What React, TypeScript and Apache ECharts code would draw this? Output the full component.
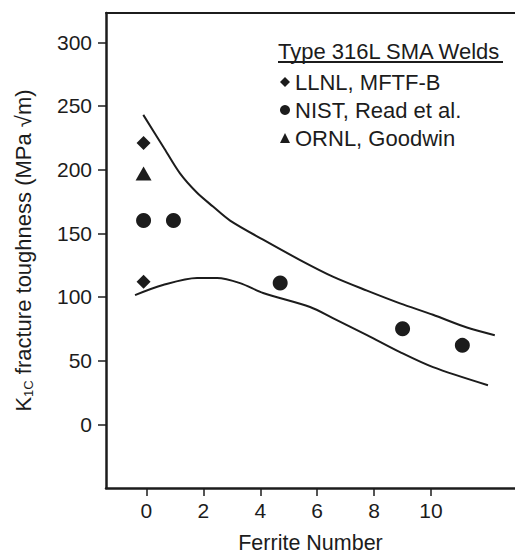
import React, { useEffect, useRef } from "react";
import * as echarts from "echarts";

// Axis ticks
const xTicks = [0, 2, 4, 6, 8, 10];
const yTicks = [0, 50, 100, 150, 200, 250, 300];

// Legend texts
const legendTitle = "Type 316L SMA Welds";
const seriesNames = ["LLNL, MFTF-B", "NIST, Read et al.", "ORNL, Goodwin"];

// Measured K1C values: [ferrite number, MPa·√m]
const llnl = [
  [-0.1, 221],
  [-0.1, 112],
];
const nist = [
  [-0.1, 160],
  [0.95, 160],
  [4.7, 111],
  [9.0, 75],
  [11.1, 62],
];
const ornl = [[-0.1, 197]];

// Scatter band boundaries
const upperBound = [
  [-0.11, 243],
  [0.59, 218],
  [1.18, 197],
  [1.77, 182],
  [2.34, 171],
  [2.94, 160],
  [4.1, 145],
  [5.4, 129],
  [6.55, 116],
  [7.75, 105],
  [8.91, 95],
  [10.07, 86],
  [11.26, 76],
  [12.24, 70],
];
const lowerBound = [
  [-0.4, 101.5],
  [0.58, 109.4],
  [1.78, 114.9],
  [2.48, 114.9],
  [3.29, 110.9],
  [4.1, 103.1],
  [5.75, 92.1],
  [6.55, 83.4],
  [7.75, 70.1],
  [8.91, 56.7],
  [10.07, 44.9],
  [12.0, 30.7],
];

const FONT = "Liberation Sans";
const INK = "#1c1c1c";

export default function App() {
  const ref = useRef<HTMLDivElement>(null);

  useEffect(() => {
    if (!ref.current) return;
    const chart = echarts.init(ref.current, null, { renderer: "svg" });

    const bandLine = (data: number[][]) => ({
      type: "line",
      data,
      smooth: 0.3,
      showSymbol: false,
      silent: true,
      lineStyle: { color: INK, width: 2 },
      z: 2,
    });

    chart.setOption({
      animation: false,
      backgroundColor: "#ffffff",
      textStyle: { fontFamily: FONT },
      grid: {
        left: 106,
        right: 0,
        top: 13,
        bottom: 67,
        containLabel: false,
        outerBoundsMode: "none",
      },
      xAxis: [
        {
          type: "value",
          position: "bottom",
          min: -1.42,
          max: 12.95,
          splitLine: { show: false },
          axisLine: { show: true, onZero: false, lineStyle: { color: INK, width: 2.5 } },
          axisTick: {
            show: true,
            length: 8,
            customValues: xTicks,
            lineStyle: { color: INK, width: 1.5 },
          },
          axisLabel: {
            customValues: xTicks,
            fontSize: 21,
            fontFamily: FONT,
            color: INK,
            margin: 12,
          },
          name: "Ferrite Number",
          nameLocation: "middle",
          nameGap: 44,
          nameTextStyle: { fontSize: 21.5, fontFamily: FONT, color: INK },
        },
        {
          type: "value",
          position: "top",
          min: -1.42,
          max: 12.95,
          splitLine: { show: false },
          axisLine: { show: true, onZero: false, lineStyle: { color: INK, width: 2 } },
          axisTick: { show: false },
          axisLabel: { show: false },
        },
      ],
      yAxis: {
        type: "value",
        min: -50,
        max: 323,
        splitLine: { show: false },
        axisLine: { show: true, onZero: false, lineStyle: { color: INK, width: 2.5 } },
        axisTick: {
          show: true,
          length: 8,
          customValues: yTicks,
          lineStyle: { color: INK, width: 1.5 },
        },
        axisLabel: {
          customValues: yTicks,
          fontSize: 21,
          fontFamily: FONT,
          color: INK,
          margin: 14,
        },
        name: "{k|K}{sub|1C}{t| fracture toughness (MPa √m)}",
        nameLocation: "middle",
        nameGap: 71,
        nameTextStyle: {
          color: INK,
          fontFamily: FONT,
          rich: {
            k: { fontSize: 22, lineHeight: 24, fontFamily: FONT, color: INK },
            sub: {
              fontSize: 13,
              lineHeight: 13,
              verticalAlign: "bottom",
              fontFamily: FONT,
              color: INK,
            },
            t: { fontSize: 22, lineHeight: 24, fontFamily: FONT, color: INK },
          },
        },
      },
      legend: {
        data: seriesNames,
        orient: "vertical",
        left: 275,
        top: 66,
        itemWidth: 10,
        itemHeight: 10,
        itemGap: 6,
        selectedMode: false,
        textStyle: { fontSize: 22, lineHeight: 22, fontFamily: FONT, color: INK },
      },
      graphic: [
        {
          type: "text",
          left: 278,
          top: 40,
          style: {
            text: legendTitle,
            font: `22px "${FONT}"`,
            fill: INK,
          },
        },
        {
          type: "line",
          shape: { x1: 278, y1: 62, x2: 503, y2: 62 },
          style: { stroke: INK, lineWidth: 2 },
        },
      ],
      series: [
        bandLine(upperBound),
        bandLine(lowerBound),
        {
          name: seriesNames[0],
          type: "scatter",
          data: llnl,
          symbol: "diamond",
          symbolSize: [14, 14],
          itemStyle: { color: INK, opacity: 1 },
          z: 3,
        },
        {
          name: seriesNames[1],
          type: "scatter",
          data: nist,
          symbol: "circle",
          symbolSize: 15,
          itemStyle: { color: INK, opacity: 1 },
          z: 3,
        },
        {
          name: seriesNames[2],
          type: "scatter",
          data: ornl,
          symbol: "triangle",
          symbolSize: [16, 14],
          itemStyle: { color: INK, opacity: 1 },
          z: 3,
        },
      ],
    });

    return () => chart.dispose();
  }, []);

  return (
    <div
      ref={ref}
      style={{ position: "fixed", left: 0, top: 0, width: 515, height: 555 }}
    />
  );
}
